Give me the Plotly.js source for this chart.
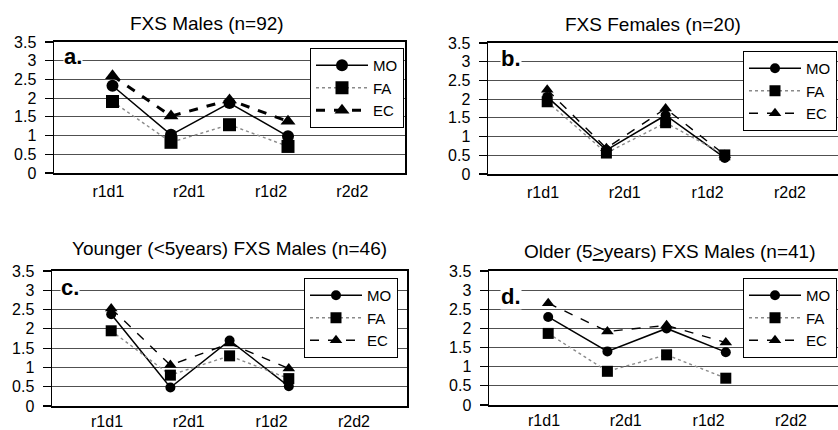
<!DOCTYPE html>
<html>
<head>
<meta charset="utf-8">
<script src="https://cdn.plot.ly/plotly-3.0.1.min.js"></script>
<style>html,body{margin:0;padding:0;background:#fff;}#chart{width:838px;height:430px;}</style>
</head>
<body>
<div id="chart"></div>
<script>
// ---- data ----
const categories = ['r1d1', 'r2d1', 'r1d2', 'r2d2'];
const labelPos = [0.93, 2.31, 3.71, 5.1];
const pointIdx = [1, 2, 3, 4];
const seriesNames = ['MO', 'FA', 'EC'];

const titles = [
  'FXS Males (n=92)',
  'FXS Females (n=20)',
  'Younger (&lt;5years) FXS Males (n=46)',
  'Older (5<u>&gt;</u>years) FXS Males (n=41)'
];
const panelLabels = ['a.', 'b.', 'c.', 'd.'];

const aMO = [2.33, 1.02, 1.87, 0.98];
const aFA = [1.91, 0.82, 1.29, 0.71];
const aEC = [2.60, 1.52, 1.95, 1.38];

const bMO = [2.06, 0.64, 1.57, 0.43];
const bFA = [1.93, 0.56, 1.37, 0.51];
const bEC = [2.25, 0.69, 1.75, 0.51];

const cMO = [2.38, 0.48, 1.70, 0.51];
const cFA = [1.95, 0.80, 1.30, 0.71];
const cEC = [2.53, 1.06, 1.62, 0.97];

const dMO = [2.30, 1.40, 2.00, 1.38];
const dFA = [1.87, 0.88, 1.31, 0.70];
const dEC = [2.66, 1.92, 2.08, 1.63];

const panels = [
  [aMO, aFA, aEC],
  [bMO, bFA, bEC],
  [cMO, cFA, cEC],
  [dMO, dFA, dEC]
];

// ---- layout geometry ----
const W = 838, H = 430;
const boxes = [
  {x0: 54, x1: 405, y0: 42, y1: 173, unit: 58.5, standoff: 3},
  {x0: 488, x1: 838, y0: 43, y1: 174, unit: 59.2, standoff: 3},
  {x0: 52, x1: 407, y0: 271, y1: 406, unit: 59.2, standoff: 0},
  {x0: 489, x1: 838, y0: 271, y1: 405, unit: 59.2, standoff: 0}
];
// legend box: right edge x, vertical centre y
const legendPos = [[404, 88], [837, 91], [398, 318], [837, 318]];
const titlePos = [[207, 23], [653, 25], [230, 248], [669, 251]];
const labelAt = [[63, 56], [500, 58], [60, 287], [500, 296]];

const FONT = 'Arial, "Liberation Sans", Helvetica, sans-serif';

const traces = [];
const layout = {
  width: W, height: H,
  margin: {l: 0, r: 0, t: 0, b: 0},
  paper_bgcolor: '#fff', plot_bgcolor: '#fff',
  font: {family: FONT, color: '#000'},
  showlegend: true,
  annotations: []
};

const styles = [
  {symbol: 'circle', line: {color: '#000', width: 1.5, dash: 'solid'}, msize: 10},
  {symbol: 'square', line: {color: '#8a8a8a', width: 1.4, dash: 'dot'}, msize: 11},
  {symbol: 'triangle-up', line: {color: '#000', width: 1.4, dash: 'dash'}, msize: 11}
];

panels.forEach((series, p) => {
  const n = p + 1;
  const xa = n === 1 ? 'xaxis' : 'xaxis' + n;
  const ya = n === 1 ? 'yaxis' : 'yaxis' + n;
  const xr = n === 1 ? 'x' : 'x' + n;
  const yr = n === 1 ? 'y' : 'y' + n;
  const lg = n === 1 ? 'legend' : 'legend' + n;
  const b = boxes[p];
  const full = b.x1 < W;

  layout[xa] = {
    domain: [b.x0 / W, b.x1 / W],
    range: [0, (b.x1 - b.x0) / b.unit],
    anchor: yr,
    tickmode: 'array', tickvals: labelPos, ticktext: categories,
    ticks: '', showgrid: false, zeroline: false,
    showline: true, linecolor: '#000', linewidth: 2, mirror: true,
    tickfont: {size: 16, family: FONT, color: '#000'},
    ticklabelstandoff: b.standoff,
    fixedrange: true
  };
  layout[ya] = {
    domain: [1 - b.y1 / H, 1 - b.y0 / H],
    range: [0, 3.5],
    anchor: xr,
    tickmode: 'array', tickvals: [0, 0.5, 1, 1.5, 2, 2.5, 3, 3.5],
    ticks: 'outside', ticklen: 8, tickwidth: 1.2, tickcolor: '#000',
    showgrid: true, gridcolor: '#505050', gridwidth: 1,
    zeroline: false,
    showline: true, linecolor: '#000', linewidth: 1.5, mirror: full,
    tickfont: {size: 16, family: FONT, color: '#000'},
    ticklabelstandoff: 5,
    fixedrange: true
  };
  layout[lg] = {
    x: legendPos[p][0] / W, y: 1 - legendPos[p][1] / H,
    xanchor: 'right', yanchor: 'middle',
    bgcolor: '#fff', bordercolor: '#000', borderwidth: 1,
    font: {size: 15, family: FONT, color: '#000'},
    itemwidth: 52
  };

  series.forEach((vals, s) => {
    const st = styles[s];
    const bigA = p === 0;
    traces.push({
      type: 'scatter', mode: 'lines+markers',
      name: seriesNames[s],
      x: pointIdx, y: vals,
      xaxis: xr, yaxis: yr, legend: lg,
      line: {
        color: st.line.color,
        width: (bigA && s === 2) ? 3 : st.line.width,
        dash: st.line.dash
      },
      marker: {symbol: st.symbol, size: bigA ? st.msize + 2 : st.msize, color: '#000'},
      hoverinfo: 'skip'
    });
  });

  layout.annotations.push({
    xref: 'paper', yref: 'paper',
    x: titlePos[p][0] / W, y: 1 - titlePos[p][1] / H,
    xanchor: 'center', yanchor: 'middle',
    text: titles[p], showarrow: false,
    font: {size: 19, family: FONT, color: '#000'}
  });
  layout.annotations.push({
    xref: 'paper', yref: 'paper',
    x: labelAt[p][0] / W, y: 1 - labelAt[p][1] / H,
    xanchor: 'left', yanchor: 'middle',
    text: '<b>' + panelLabels[p] + '</b>', showarrow: false,
    bgcolor: '#fff', borderpad: 0,
    font: {size: 22, family: FONT, color: '#000'}
  });
});

Plotly.newPlot('chart', traces, layout, {displayModeBar: false, staticPlot: true});
</script>
</body>
</html>
